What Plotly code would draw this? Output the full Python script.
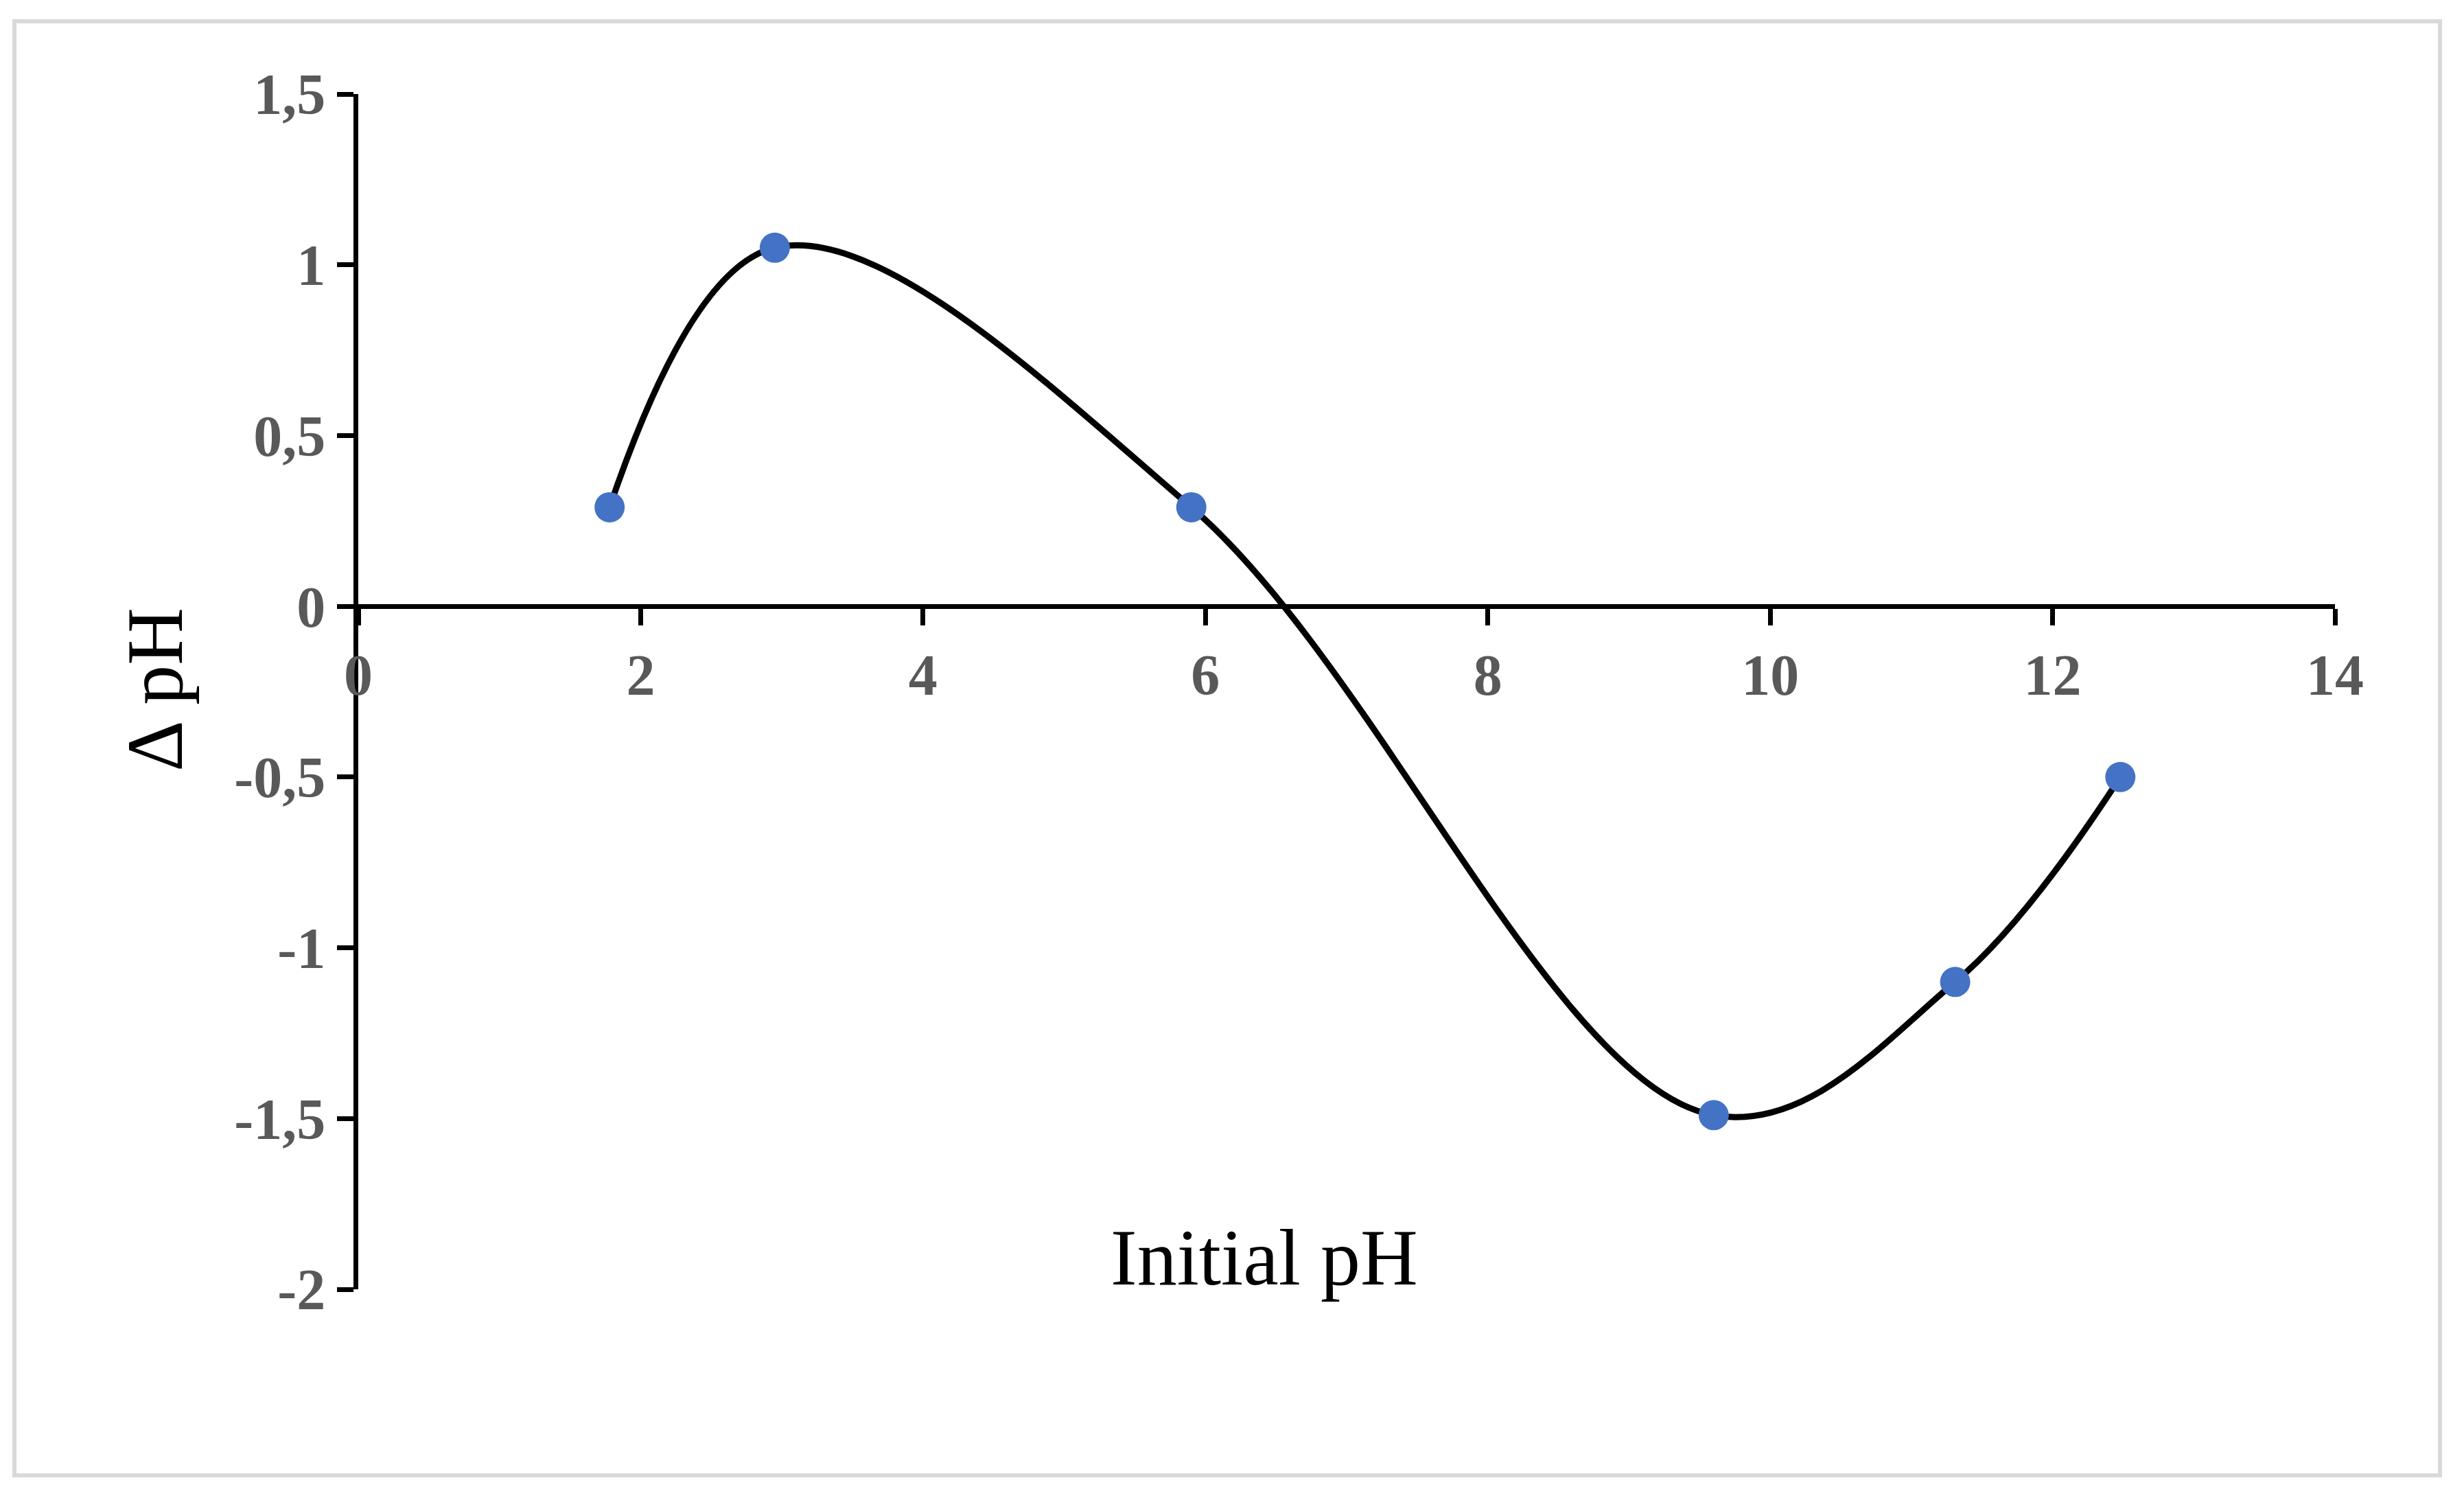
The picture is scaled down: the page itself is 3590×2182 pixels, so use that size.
import plotly.graph_objects as go

# Data
initial_ph = [1.78, 2.95, 5.90, 9.60, 11.31, 12.48]
delta_ph = [0.29, 1.05, 0.29, -1.49, -1.10, -0.50]

x_tick_vals = [0, 2, 4, 6, 8, 10, 12, 14]
x_tick_text = ["0", "2", "4", "6", "8", "10", "12", "14"]
y_tick_vals = [1.5, 1, 0.5, 0, -0.5, -1, -1.5, -2]
y_tick_text = ["1,5", "1", "0,5", "0", "-0,5", "-1", "-1,5", "-2"]

W, H = 3590, 2182
L, R, T, B = 522, 188, 137, 304
pw, ph = W - L - R, H - T - B

def px(xp):
    return (xp - L) / pw

def py(yp):
    return (H - B - yp) / ph

fig = go.Figure()
fig.add_trace(go.Scatter(
    x=initial_ph, y=delta_ph, mode="lines+markers",
    line=dict(color="black", width=9, shape="spline", smoothing=1.05),
    marker=dict(color="#4472C4", size=44, line=dict(width=0)),
    showlegend=False,
))

tickfont = dict(family="Liberation Serif", size=84, color="#595959", weight="bold")

fig.update_layout(
    width=W, height=H,
    margin=dict(l=L, r=R, t=T, b=B, autoexpand=False),
    paper_bgcolor="white", plot_bgcolor="white",
    xaxis=dict(
        range=[0, 14], tickvals=x_tick_vals, ticktext=x_tick_text,
        showgrid=False, zeroline=False, showline=True, linecolor="black", linewidth=7,
        ticks="outside", ticklen=24, tickwidth=7, tickcolor="black",
        tickfont=tickfont, anchor="free", position=2 / 3.5,
    ),
    yaxis=dict(
        range=[-2, 1.5], tickvals=y_tick_vals, ticktext=y_tick_text,
        showgrid=False, zeroline=False, showline=True, linecolor="black", linewidth=7,
        ticks="outside", ticklen=24, tickwidth=7, tickcolor="black",
        tickfont=tickfont,
    ),
    shapes=[dict(
        type="rect", xref="paper", yref="paper",
        x0=px(21), x1=px(3555), y0=py(2149), y1=py(31),
        line=dict(color="#d9d9d9", width=6), fillcolor="rgba(0,0,0,0)", layer="below",
    )],
    annotations=[
        dict(text="Initial pH", xref="paper", yref="paper", x=px(1842), y=py(1832),
             xanchor="center", yanchor="middle", showarrow=False,
             font=dict(family="Liberation Serif", size=116, color="black")),
        dict(text="Δ pH", xref="paper", yref="paper", x=px(226), y=py(1005),
             xanchor="center", yanchor="middle", showarrow=False, textangle=-90,
             font=dict(family="Liberation Serif", size=116, color="black")),
    ],
)

fig.write_html("out.html", config={"displayModeBar": False},
               post_script="document.body.style.margin='0';")
